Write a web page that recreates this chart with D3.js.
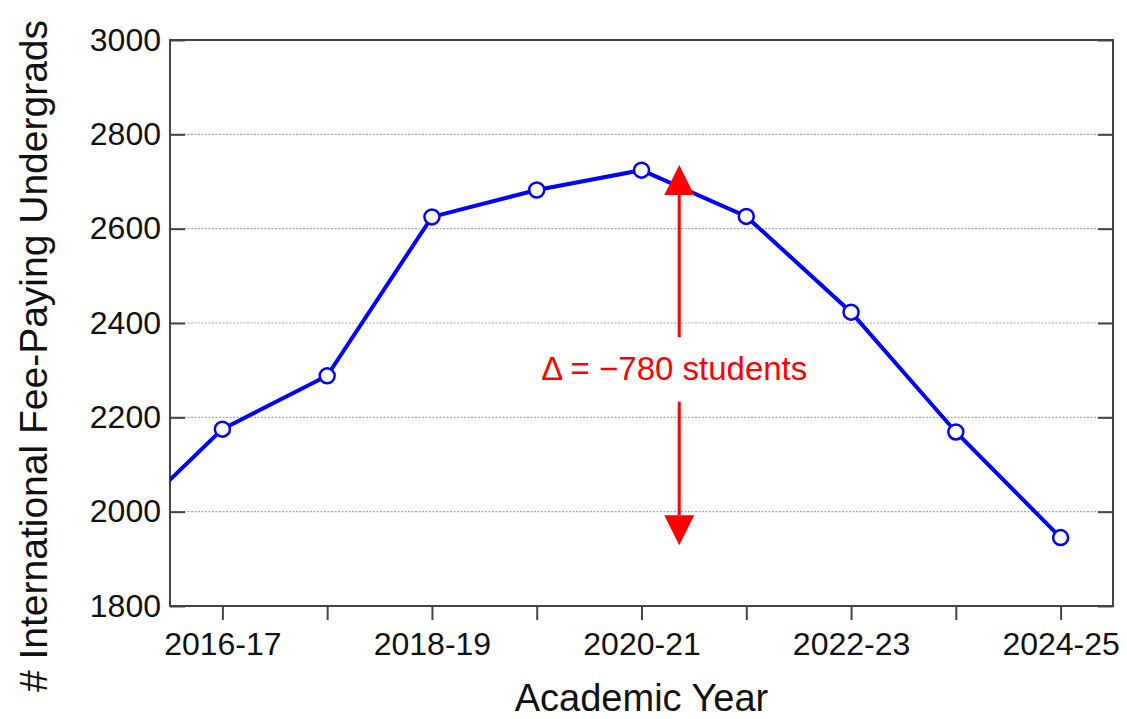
<!DOCTYPE html>
<html>
<head>
<meta charset="utf-8">
<script src="https://cdn.jsdelivr.net/npm/d3@7"></script>
<style>
    body { margin: 0; background: #fff; }
    svg text { font-family: "Liberation Sans", Arial, Helvetica, sans-serif; }
</style>
</head>
<body>
<svg id="chart" width="1127" height="719"></svg>
<script>
/** Chart data */
const years = [-1, 0, 1, 2, 3, 4, 5, 6, 7, 8]; // index from 2016-17
const yearLabels = ['2015-16', '2016-17', '2017-18', '2018-19', '2019-20', '2020-21', '2021-22', '2022-23', '2023-24', '2024-25'];
const students = [1960, 2175, 2288, 2625, 2682, 2724, 2626, 2423, 2169, 1945];
const yTicks = [1800, 2000, 2200, 2400, 2600, 2800, 3000];
const xTicks = [0, 1, 2, 3, 4, 5, 6, 7, 8];
const xTickLabels = ['2016-17', '', '2018-19', '', '2020-21', '', '2022-23', '', '2024-25'];

// annotation: change from peak to latest year
const deltaText = 'Δ = −780 students';
const arrowX = 4.36;
const arrowTop = 2735, arrowBottom = 1929;
const gapTop = 2370, gapBottom = 2233;

const svg = d3.select('#chart');
const margin = { top: 40, right: 14, bottom: 113, left: 170 };
const width = 1127 - margin.left - margin.right;
const height = 719 - margin.top - margin.bottom;

const g = svg.append('g').attr('transform', `translate(${margin.left},${margin.top})`);

// Scales
const xScale = d3.scaleLinear().domain([-0.5, 8.5]).range([0, width]);
const yScale = d3.scaleLinear().domain([1800, 3000]).range([height, 0]);

// Dotted gridlines
g.append('g')
    .selectAll('line')
    .data(yTicks.filter(d => d > 1800 && d < 3000))
    .enter()
    .append('line')
    .attr('x1', 0).attr('x2', width)
    .attr('y1', d => yScale(d)).attr('y2', d => yScale(d))
    .attr('stroke', '#a8a8a8')
    .attr('stroke-width', 1.2)
    .attr('stroke-dasharray', '2,1.5');

// Left axis (inward ticks)
const leftAxis = g.append('g')
    .call(d3.axisLeft(yScale).tickValues(yTicks).tickFormat(d3.format('d'))
        .tickSizeInner(-15).tickSizeOuter(0).tickPadding(9));
leftAxis.select('.domain').remove();
leftAxis.selectAll('.tick line').attr('stroke', '#444').attr('stroke-width', 2);
leftAxis.selectAll('.tick text')
    .attr('font-size', 32)
    .attr('fill', '#111');

// Right axis (inward ticks, no labels)
const rightAxis = g.append('g')
    .attr('transform', `translate(${width},0)`)
    .call(d3.axisRight(yScale).tickValues(yTicks).tickSizeInner(-15).tickSizeOuter(0).tickFormat(''));
rightAxis.select('.domain').remove();
rightAxis.selectAll('.tick line').attr('stroke', '#444').attr('stroke-width', 2);

// Bottom axis (outward ticks)
const bottomAxis = g.append('g')
    .attr('transform', `translate(0,${height})`)
    .call(d3.axisBottom(xScale).tickValues(xTicks).tickSizeInner(14).tickSizeOuter(0).tickPadding(12)
        .tickFormat((d, i) => xTickLabels[i]));
bottomAxis.select('.domain').remove();
bottomAxis.selectAll('.tick line').attr('stroke', '#444').attr('stroke-width', 2);
bottomAxis.selectAll('.tick text')
    .attr('font-size', 32)
    .attr('fill', '#111');

// Frame
g.append('rect')
    .attr('width', width)
    .attr('height', height)
    .attr('fill', 'none')
    .attr('stroke', '#444')
    .attr('stroke-width', 2);

// Clip so the 2015-16 segment is cut at the left edge
g.append('clipPath').attr('id', 'plotClip')
    .append('rect').attr('width', width).attr('height', height);

const series = years.map((d, i) => ({ idx: d, value: students[i] }));

const lineGenerator = d3.line()
    .x(d => xScale(d.idx))
    .y(d => yScale(d.value));

g.append('path')
    .datum(series)
    .attr('clip-path', 'url(#plotClip)')
    .attr('fill', 'none')
    .attr('stroke', '#0000ff')
    .attr('stroke-width', 4)
    .attr('d', lineGenerator);

g.selectAll('circle.pt')
    .data(series.filter(d => d.idx >= 0))
    .enter()
    .append('circle')
    .attr('class', 'pt')
    .attr('cx', d => xScale(d.idx))
    .attr('cy', d => yScale(d.value))
    .attr('r', 7.5)
    .attr('fill', '#fff')
    .attr('stroke', '#0000ff')
    .attr('stroke-width', 2.5);

// Delta annotation: two arrows with a label between them
const ax = xScale(arrowX);
const head = 30, halfW = 15;
const red = '#ff0000';

g.append('line')
    .attr('x1', ax).attr('x2', ax)
    .attr('y1', yScale(arrowTop) + head).attr('y2', yScale(gapTop))
    .attr('stroke', red).attr('stroke-width', 3);
g.append('path')
    .attr('d', `M${ax},${yScale(arrowTop)} L${ax + halfW},${yScale(arrowTop) + head} L${ax - halfW},${yScale(arrowTop) + head} Z`)
    .attr('fill', red);

g.append('line')
    .attr('x1', ax).attr('x2', ax)
    .attr('y1', yScale(gapBottom)).attr('y2', yScale(arrowBottom) - head)
    .attr('stroke', red).attr('stroke-width', 3);
g.append('path')
    .attr('d', `M${ax},${yScale(arrowBottom)} L${ax + halfW},${yScale(arrowBottom) - head} L${ax - halfW},${yScale(arrowBottom) - head} Z`)
    .attr('fill', red);

g.append('text')
    .attr('x', ax - 5)
    .attr('y', yScale((gapTop + gapBottom) / 2) + 11)
    .attr('text-anchor', 'middle')
    .attr('font-size', 33)
    .attr('fill', red)
    .text(deltaText);

// Axis titles
svg.append('text')
    .attr('x', margin.left + width / 2)
    .attr('y', 711)
    .attr('text-anchor', 'middle')
    .attr('font-size', 38)
    .attr('fill', '#111')
    .text('Academic Year');

svg.append('text')
    .attr('transform', 'translate(47, 356) rotate(-90)')
    .attr('text-anchor', 'middle')
    .attr('font-size', 39)
    .attr('fill', '#111')
    .text('# International Fee-Paying Undergrads');
</script>
</body>
</html>
